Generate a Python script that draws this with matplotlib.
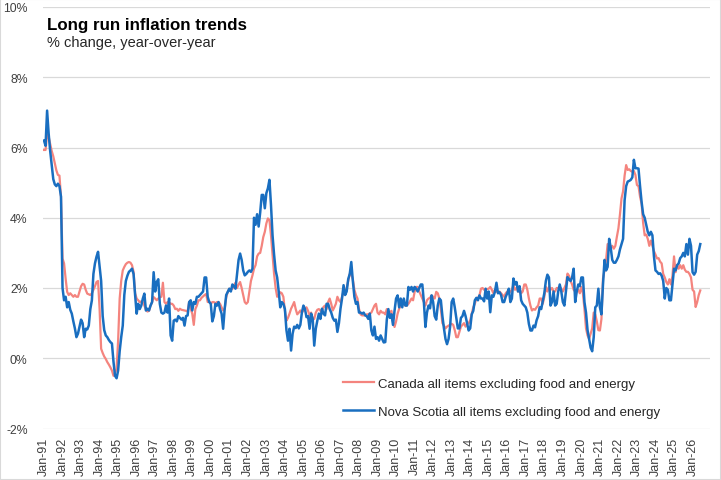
import matplotlib
matplotlib.use('Agg')
import matplotlib.pyplot as plt
from matplotlib.patches import Rectangle
import numpy as np

# monthly y/y % change, Jan 1991 onwards, one row per year
canada = [
    5.93, 5.93, 6.36, 6.3, 6.1, 5.9, 5.75, 5.55, 5.35, 5.22, 5.2, 4.6,
    2.84, 2.7, 2.27, 1.89, 1.8, 1.85, 1.8, 1.75, 1.8, 1.75, 1.75, 1.9,
    2.05, 2.12, 2.1, 1.95, 1.84, 1.82, 1.8, 1.85, 1.95, 2.05, 2.17, 2.2,
    1.4, 0.27, 0.15, 0.05, -0.02, -0.11, -0.18, -0.26, -0.35, -0.5, -0.42, -0.3,
    0.5, 1.7, 2.2, 2.5, 2.6, 2.68, 2.72, 2.74, 2.72, 2.65, 2.46, 1.85,
    1.7, 1.65, 1.6, 1.62, 1.6, 1.5, 1.38, 1.33, 1.35, 1.5, 1.6, 1.74,
    1.7, 1.65, 1.7, 1.74, 1.75, 2.15, 1.6, 1.55, 1.6, 1.6, 1.55, 1.55,
    1.5, 1.4, 1.41, 1.35, 1.41, 1.38, 1.37, 1.36, 1.35, 1.33, 1.6, 1.41,
    1.27, 0.95, 1.4, 1.5, 1.65, 1.65, 1.72, 1.76, 1.8, 1.83, 1.6, 1.62,
    1.55, 1.6, 1.6, 1.56, 1.6, 1.6, 1.55, 1.45, 1.36, 1.4, 1.74, 1.89,
    1.98, 1.95, 1.98, 2.06, 2.15, 2.0, 2.1, 2.17, 2.0, 1.8, 1.6, 1.55,
    1.6, 1.89, 2.2, 2.36, 2.55, 2.65, 2.9, 2.98, 3.0, 3.2, 3.45, 3.6,
    3.84, 3.98, 3.93, 3.5, 2.95, 2.4, 2.0, 1.75, 1.8, 1.88, 1.85, 1.75,
    1.36, 1.07, 1.15, 1.27, 1.41, 1.5, 1.6, 1.4, 1.25, 1.3, 1.36, 1.3,
    1.36, 1.42, 1.45, 1.35, 1.22, 1.3, 1.1, 1.12, 1.3, 1.38, 1.4, 1.35,
    1.35, 1.46, 1.5, 1.4, 1.6, 1.7, 1.55, 1.36, 1.45, 1.55, 1.75, 1.65,
    1.6, 1.75, 1.9, 1.85, 2.0, 2.2, 2.4, 2.4, 2.25, 1.95, 1.8, 1.7,
    1.4, 1.25, 1.22, 1.22, 1.22, 1.25, 1.25, 1.28, 1.3, 1.4, 1.5, 1.55,
    1.3, 1.25, 1.35, 1.3, 1.3, 1.25, 1.4, 1.3, 1.3, 1.35, 1.05, 0.89,
    1.05, 1.27, 1.41, 1.5, 1.65, 1.6, 1.5, 1.5, 1.55, 1.62, 1.7, 1.65,
    1.89, 2.03, 2.03, 1.9, 1.8, 1.7, 1.6, 1.5, 1.65, 1.7, 1.72, 1.79,
    1.75, 1.7, 1.89, 1.85, 1.7, 1.4, 1.0, 0.93, 0.85, 0.9, 0.93, 0.95,
    0.98, 0.95, 0.8, 0.6, 0.6, 0.75, 0.9, 0.95, 1.0, 0.9, 0.97, 1.0,
    1.08, 1.27, 1.45, 1.55, 1.7, 1.72, 1.79, 1.98, 2.0, 1.95, 1.97, 1.97,
    1.98, 2.03, 1.95, 1.85, 1.95, 1.9, 1.87, 1.9, 1.85, 1.8, 1.75, 1.85,
    1.9, 1.85, 1.9, 1.95, 2.08, 1.95, 2.0, 1.9, 1.98, 1.85, 1.9, 2.1,
    2.1, 1.95, 1.7, 1.5, 1.36, 1.4, 1.38, 1.45, 1.5, 1.7, 1.7, 1.55,
    1.75, 2.03, 1.9, 2.03, 1.95, 2.0, 1.9, 1.9, 2.0, 2.0, 2.03, 1.98,
    1.9, 2.0, 2.1, 2.41, 2.35, 2.2, 2.1, 1.95, 1.9, 1.9, 1.95, 1.85,
    2.03, 1.85, 1.4, 0.85, 0.65, 0.55, 0.7, 0.85, 1.3, 1.25, 1.05, 0.8,
    0.79, 1.12, 2.27, 2.5, 2.8, 3.25, 3.25, 3.15, 3.2, 3.12, 3.2, 3.46,
    3.7, 4.1, 4.55, 4.75, 5.2, 5.5, 5.36, 5.38, 5.33, 5.31, 5.33, 5.22,
    4.93, 4.9, 4.6, 4.4, 3.85, 3.5, 3.52, 3.4, 3.2, 3.35, 3.2, 3.05,
    2.95, 2.84, 2.85, 2.75, 2.7, 2.4, 2.3, 2.17, 2.1, 2.25, 2.1, 2.35,
    2.9, 2.45, 2.65, 2.55, 2.65, 2.55, 2.65, 2.52, 2.46, 2.46, 2.4, 2.3,
    1.95, 1.9, 1.46, 1.6, 1.8, 1.93,
]

nova_scotia = [
    6.2, 6.05, 7.05, 6.4, 5.9, 5.5, 5.1, 4.95, 4.9, 4.97, 4.9, 4.6,
    2.0, 1.65, 1.75, 1.45, 1.6, 1.38, 1.27, 1.05, 0.85, 0.6, 0.7, 0.9,
    1.1, 1.0, 0.6, 0.84, 0.82, 0.93, 1.4, 1.65, 2.4, 2.7, 2.89, 3.03,
    2.6, 2.2, 1.2, 0.8, 0.65, 0.6, 0.52, 0.46, 0.42, -0.1, -0.5, -0.57,
    -0.35, 0.2, 0.6, 0.93, 1.8, 2.2, 2.35, 2.46, 2.5, 2.55, 2.4, 1.8,
    1.27, 1.55, 1.4, 1.5, 1.7, 1.84, 1.36, 1.41, 1.36, 1.5, 1.6, 2.45,
    1.9, 2.17, 2.25, 1.55, 1.3, 1.27, 1.3, 1.5, 1.3, 1.7, 0.65, 0.5,
    1.07, 1.1, 1.05, 1.2, 1.15, 1.1, 1.15, 0.93, 1.2, 1.22, 1.6, 1.65,
    1.36, 1.6, 1.55, 1.75, 1.75, 1.8, 1.85, 1.9, 2.3, 2.3, 1.75, 1.6,
    1.55, 1.05, 1.2, 1.55, 1.5, 1.6, 1.4, 1.27, 0.84, 1.4, 1.8, 1.89,
    1.98, 1.9, 2.1, 2.05, 1.98, 2.4, 2.8, 2.98, 2.8, 2.5, 2.36, 2.4,
    2.46, 2.5, 2.46, 2.55, 4.0, 3.8, 4.1, 3.75, 4.15, 4.65, 4.65, 4.27,
    4.7, 4.84, 5.08, 4.36, 3.5, 2.95, 2.5, 2.3, 1.9, 1.45, 1.6, 1.55,
    1.4, 0.8, 0.5, 0.84, 0.22, 0.7, 0.9, 0.86, 0.95, 0.85, 0.95, 1.3,
    1.5, 1.4, 1.17, 1.2, 0.84, 1.27, 1.12, 0.36, 0.84, 1.07, 1.27, 1.12,
    1.41, 1.27, 1.22, 1.55, 1.55, 1.4, 1.3, 1.15, 1.07, 1.1, 0.75, 1.0,
    1.41, 1.7, 2.08, 1.8, 1.9, 2.25, 2.4, 2.74, 2.2, 1.75, 1.55, 1.6,
    1.3, 1.3, 1.27, 1.3, 1.22, 1.2, 1.12, 1.27, 0.79, 0.65, 0.9, 0.55,
    0.6, 0.5, 0.65, 0.55, 0.45, 0.46, 1.1, 1.4, 1.15, 1.25, 0.95, 1.35,
    1.7, 1.79, 1.45, 1.7, 1.45, 1.7, 1.5, 1.5, 2.03, 1.95, 2.03, 1.9,
    2.03, 1.98, 1.9, 2.0, 2.1, 2.1, 1.6, 0.89, 1.3, 1.5, 1.42, 1.79,
    1.6, 1.2, 1.1, 1.5, 1.7, 1.65, 1.2, 0.85, 0.55, 0.4, 0.55, 0.9,
    1.6, 1.7, 1.45, 1.15, 0.85, 0.85, 1.15, 1.2, 1.35, 1.2, 1.0, 0.79,
    0.85, 1.25, 1.35, 1.65, 1.72, 1.65, 1.79, 1.7, 1.7, 1.62, 1.98, 1.7,
    1.9, 1.31, 1.79, 1.75, 1.89, 2.15, 1.85, 1.88, 1.8, 1.6, 1.6, 1.75,
    1.85, 1.98, 1.6, 1.7, 2.27, 2.1, 2.17, 1.9, 2.05, 1.65, 1.55, 1.5,
    1.45, 1.3, 0.98, 0.79, 0.79, 0.93, 0.88, 1.08, 1.2, 1.45, 1.4, 1.62,
    1.85, 2.2, 2.38, 2.3, 1.5, 1.6, 1.9, 1.5, 1.55, 1.9, 2.1, 1.9,
    1.6, 1.5, 1.9, 2.31, 2.25, 2.2, 2.3, 2.55, 1.6, 1.9, 2.1, 2.05,
    2.3, 2.3, 1.6, 1.3, 0.8, 0.55, 0.3, 0.2, 0.6, 1.45, 1.5, 1.98,
    1.45, 1.25, 2.1, 2.8, 2.5, 2.6, 3.4, 3.15, 2.8, 2.72, 2.72, 2.8,
    2.9, 3.1, 3.25, 3.4, 4.5, 4.9, 5.03, 5.05, 5.08, 5.15, 5.65, 5.41,
    5.41, 5.4, 4.9, 4.45, 4.1, 4.0, 3.8, 3.6, 3.5, 3.6, 3.5, 2.9,
    2.5, 2.46, 2.4, 2.42, 2.35, 2.2, 1.7, 2.0, 1.95, 1.65, 1.65, 2.1,
    2.55, 2.5, 2.65, 2.7, 2.85, 2.9, 3.0, 2.9, 3.25, 2.95, 3.4, 3.2,
    2.45, 2.38, 2.46, 2.95, 3.05, 3.25,
]

years = list(range(1991, 2027))
tick_labels = ["Jan-%02d" % (y % 100) for y in years]

plt.rcParams['font.family'] = ['Liberation Sans', 'DejaVu Sans']

fig = plt.figure(figsize=(7.21, 4.81), dpi=100)
ax = fig.add_axes([43 / 721, 1 - 429.5 / 481, 667 / 721, 421.5 / 481])

ax.plot(np.arange(len(canada)), canada, color='#F4847E', lw=1.6,
        label="Canada all items excluding food and energy")
ax.plot(np.arange(len(nova_scotia)), nova_scotia, color='#196EC0', lw=1.8,
        label="Nova Scotia all items excluding food and energy")

ax.set_xlim(-0.65, 431.3)
ax.set_ylim(-2, 10)
ax.set_yticks(range(-2, 11, 2))
ax.set_yticklabels(["%d%%" % v for v in range(-2, 11, 2)])
ax.set_xticks([12 * i for i in range(len(years))])
ax.set_xticklabels(tick_labels, rotation=90)
ax.tick_params(axis='y', length=0, pad=11, labelsize=8.8, colors='#404040')
ax.tick_params(axis='x', length=0, pad=6, labelsize=9, colors='#404040')
ax.grid(True, axis='y', color='#d9d9d9', lw=0.9)
ax.set_axisbelow(True)
for s in ax.spines.values():
    s.set_visible(False)

lg = ax.legend(loc='center left', bbox_to_anchor=(343 / 721, 1 - 398.5 / 481),
               bbox_transform=fig.transFigure, frameon=False, fontsize=9.5,
               handlelength=2.35, handletextpad=0.3, labelspacing=1.2,
               borderpad=0, borderaxespad=0)
for t in lg.get_texts():
    t.set_color('#262626')

fig.text(47 / 721, 1 - 30 / 481, "Long run inflation trends", fontsize=12.2,
         fontweight='bold', color='black', va='baseline')
fig.text(47 / 721, 1 - 47 / 481, "% change, year-over-year", fontsize=10.5,
         color='#262626', va='baseline')

fig.patches.append(Rectangle((0, 0), 1, 1, transform=fig.transFigure,
                             fill=False, edgecolor='#d9d9d9', lw=1.5))

fig.savefig("out.png", dpi=100)
